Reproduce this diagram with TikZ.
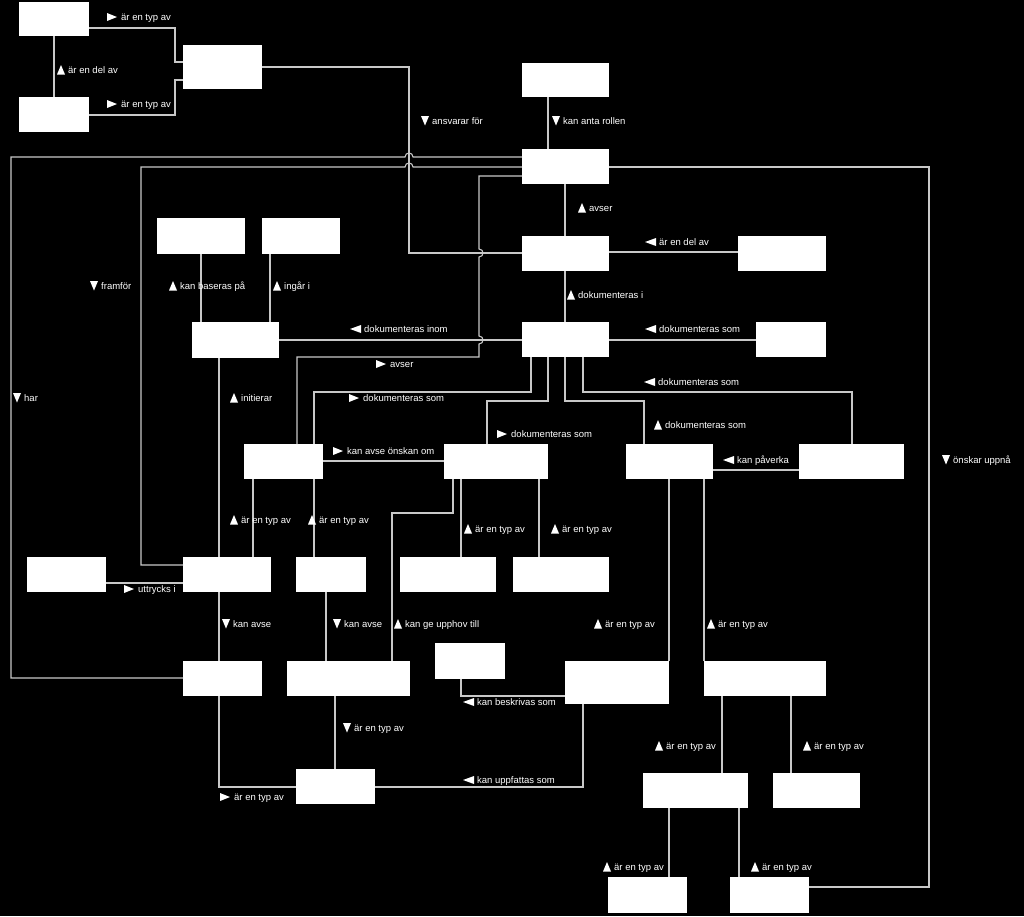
\documentclass[tikz,border=0pt]{standalone}
\usepackage{fontspec}
\setmainfont{Liberation Sans}
\definecolor{linegray}{RGB}{200,200,200}
\tikzset{
  box/.style={fill=white, draw=none, inner sep=0pt, anchor=north west},
  conn/.style={draw=linegray, line width=1.1pt},
  lbltext/.style={text=white, font=\fontsize{9.5}{11}\selectfont, inner sep=0pt, anchor=base west},
  tri/.style={fill=white, draw=none}
}
\newcommand\mkbox[5]{\node[box, minimum width=#4, minimum height=#5] (#1) at (#2,#3) {};}
\newcommand\lup[4]{\fill[tri] (#2,#3+4.5) -- (#2+8,#3+4.5) -- (#2+4,#3-5) -- cycle; \node[lbltext] (#1) at (#2+11,#3+3.5) {#4};}
\newcommand\ldn[4]{\fill[tri] (#2,#3-5) -- (#2+8,#3-5) -- (#2+4,#3+4.5) -- cycle; \node[lbltext] (#1) at (#2+11,#3+3.5) {#4};}
\newcommand\lrt[4]{\fill[tri] (#2,#3-4) -- (#2,#3+4) -- (#2+10,#3) -- cycle; \node[lbltext] (#1) at (#2+14,#3+3.5) {#4};}
\newcommand\llt[4]{\fill[tri] (#2+11,#3-4) -- (#2+11,#3+4) -- (#2,#3) -- cycle; \node[lbltext] (#1) at (#2+14,#3+3.5) {#4};}
\begin{document}
\begin{tikzpicture}[x=1pt,y=-1pt]
\fill[black] (0,0) rectangle (1024,916);
\useasboundingbox (0,0) rectangle (1024,916);
% boxes
\mkbox{A}{19}{2}{70}{34}
\mkbox{B}{19}{97}{70}{35}
\mkbox{C}{183}{45}{79}{44}
\mkbox{D}{522}{63}{87}{34}
\mkbox{F}{522}{149}{87}{35}
\mkbox{E}{522}{236}{87}{35}
\mkbox{G}{522}{322}{87}{35}
\mkbox{P}{738}{236}{88}{35}
\mkbox{Q}{756}{322}{70}{35}
\mkbox{K}{157}{218}{88}{36}
\mkbox{L}{262}{218}{78}{36}
\mkbox{I}{192}{322}{87}{36}
\mkbox{H}{244}{444}{79}{35}
\mkbox{M}{444}{444}{104}{35}
\mkbox{N}{626}{444}{87}{35}
\mkbox{O}{799}{444}{105}{35}
\mkbox{V}{27}{557}{79}{35}
\mkbox{J}{183}{557}{88}{35}
\mkbox{R}{296}{557}{70}{35}
\mkbox{T}{400}{557}{96}{35}
\mkbox{U}{513}{557}{96}{35}
\mkbox{W}{183}{661}{79}{35}
\mkbox{S}{287}{661}{123}{35}
\mkbox{X}{435}{643}{70}{36}
\mkbox{Y}{565}{661}{104}{43}
\mkbox{AA}{704}{661}{122}{35}
\mkbox{Z}{296}{769}{79}{35}
\mkbox{BB}{643}{773}{105}{35}
\mkbox{CC}{773}{773}{87}{35}
\mkbox{DD}{608}{877}{79}{36}
\mkbox{EE}{730}{877}{79}{36}
% connectors
\draw[conn] (A.east |- 0,28) -- (175,28) -- (175,62) -- (C.west |- 0,62);
\draw[conn] (B.east |- 0,115) -- (175,115) -- (175,80) -- (C.west |- 0,80);
\draw[conn] (A.south -| 54,0) -- (B.north -| 54,0);
\draw[conn] (C.east |- 0,67) -- (409,67) -- (409,253) -- (E.west |- 0,253);
\draw[conn] (D.south -| 548,0) -- (F.north -| 548,0);
\draw[conn] (F.south -| 565,0) -- (E.north -| 565,0);
\draw[conn] (E.south -| 565,0) -- (G.north -| 565,0);
\draw[conn] (E.east |- 0,252) -- (P.west |- 0,252);
\draw[conn] (G.east |- 0,340) -- (Q.west |- 0,340);
\draw[conn] (F.west |- 0,157) -- (413,157) .. controls (413,151.7) and (405,151.7) .. (405,157) -- (11,157) -- (11,678) -- (W.west |- 0,678);
\draw[conn] (F.west |- 0,167) -- (413,167) .. controls (413,161.7) and (405,161.7) .. (405,167) -- (141,167) -- (141,565) -- (J.west |- 0,565);
\draw[conn] (F.west |- 0,176) -- (479,176) -- (479,249) .. controls (484.3,249) and (484.3,257) .. (479,257) -- (479,336) .. controls (484.3,336) and (484.3,344) .. (479,344) -- (479,357) -- (297,357) -- (H.north -| 297,0);
\draw[conn] (F.east |- 0,167) -- (929,167) -- (929,887) -- (EE.east |- 0,887);
\draw[conn] (K.south -| 201,0) -- (I.north -| 201,0);
\draw[conn] (L.south -| 270,0) -- (I.north -| 270,0);
\draw[conn] (I.east |- 0,340) -- (G.west |- 0,340);
\draw[conn] (I.south -| 219,0) -- (J.north -| 219,0);
\draw[conn] (G.south -| 531,0) -- (531,392) -- (314,392) -- (H.north -| 314,0);
\draw[conn] (G.south -| 548,0) -- (548,401) -- (487,401) -- (M.north -| 487,0);
\draw[conn] (G.south -| 565,0) -- (565,401) -- (644,401) -- (N.north -| 644,0);
\draw[conn] (G.south -| 583,0) -- (583,392) -- (852,392) -- (O.north -| 852,0);
\draw[conn] (O.west |- 0,470) -- (N.east |- 0,470);
\draw[conn] (H.east |- 0,461) -- (M.west |- 0,461);
\draw[conn] (H.south -| 253,0) -- (J.north -| 253,0);
\draw[conn] (H.south -| 314,0) -- (R.north -| 314,0);
\draw[conn] (M.south -| 453,0) -- (453,513) -- (392,513) -- (S.north -| 392,0);
\draw[conn] (M.south -| 461,0) -- (T.north -| 461,0);
\draw[conn] (M.south -| 539,0) -- (U.north -| 539,0);
\draw[conn] (V.east |- 0,583) -- (J.west |- 0,583);
\draw[conn] (J.south -| 219,0) -- (W.north -| 219,0);
\draw[conn] (R.south -| 326,0) -- (S.north -| 326,0);
\draw[conn] (N.south -| 669,0) -- (Y.north -| 669,0);
\draw[conn] (N.south -| 704,0) -- (AA.north -| 704,0);
\draw[conn] (X.south -| 461,0) -- (461,696) -- (Y.west |- 0,696);
\draw[conn] (W.south -| 219,0) -- (219,787) -- (Z.west |- 0,787);
\draw[conn] (S.south -| 335,0) -- (Z.north -| 335,0);
\draw[conn] (Z.east |- 0,787) -- (583,787) -- (Y.south -| 583,0);
\draw[conn] (AA.south -| 722,0) -- (BB.north -| 722,0);
\draw[conn] (AA.south -| 791,0) -- (CC.north -| 791,0);
\draw[conn] (BB.south -| 669,0) -- (DD.north -| 669,0);
\draw[conn] (BB.south -| 739,0) -- (EE.north -| 739,0);
% labels
\lrt{l1}{107}{17}{är en typ av}
\lrt{l2}{107}{104}{är en typ av}
\lup{l3}{57}{70}{är en del av}
\ldn{l4}{421}{121}{ansvarar för}
\ldn{l5}{552}{121}{kan anta rollen}
\lup{l6}{578}{208}{avser}
\lup{l7}{567}{295}{dokumenteras i}
\llt{l8}{645}{242}{är en del av}
\llt{l9}{645}{329}{dokumenteras som}
\llt{l10}{644}{382}{dokumenteras som}
\lup{l11}{654}{425}{dokumenteras som}
\llt{l12}{723}{460}{kan påverka}
\ldn{l13}{942}{460}{önskar uppnå}
\ldn{l14}{90}{286}{framför}
\lup{l15}{169}{286}{kan baseras på}
\lup{l16}{273}{286}{ingår i}
\llt{l17}{350}{329}{dokumenteras inom}
\lrt{l18}{376}{364}{avser}
\ldn{l19}{13}{398}{har}
\lup{l20}{230}{398}{initierar}
\lrt{l21}{349}{398}{dokumenteras som}
\lrt{l22}{497}{434}{dokumenteras som}
\lrt{l23}{333}{451}{kan avse önskan om}
\lup{l24}{230}{520}{är en typ av}
\lup{l25}{308}{520}{är en typ av}
\lup{l26}{464}{529}{är en typ av}
\lup{l27}{551}{529}{är en typ av}
\lrt{l28}{124}{589}{uttrycks i}
\ldn{l29}{222}{624}{kan avse}
\ldn{l30}{333}{624}{kan avse}
\lup{l31}{394}{624}{kan ge upphov till}
\lup{l32}{594}{624}{är en typ av}
\lup{l33}{707}{624}{är en typ av}
\llt{l34}{463}{702}{kan beskrivas som}
\llt{l35}{463}{780}{kan uppfattas som}
\ldn{l36}{343}{728}{är en typ av}
\lrt{l37}{220}{797}{är en typ av}
\lup{l38}{655}{746}{är en typ av}
\lup{l39}{803}{746}{är en typ av}
\lup{l40}{603}{867}{är en typ av}
\lup{l41}{751}{867}{är en typ av}
\end{tikzpicture}
\end{document}
